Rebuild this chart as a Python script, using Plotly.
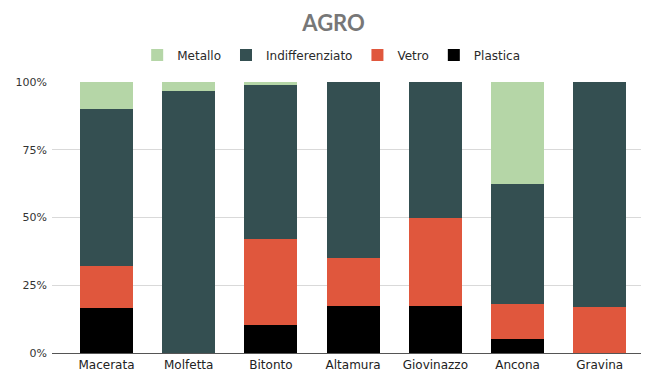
import plotly.graph_objects as go

# Waste composition per municipality (share of total, %)
comuni = ["Macerata", "Molfetta", "Bitonto", "Altamura", "Giovinazzo", "Ancona", "Gravina"]
plastica = [16.5, 0, 10.5, 17.5, 17.5, 5.0, 0]
vetro = [15.5, 0, 31.7, 17.5, 32.5, 13.2, 17.0]
indifferenziato = [58.0, 96.7, 56.8, 65.0, 50.0, 44.1, 83.0]
metallo = [10.0, 3.3, 1.0, 0, 0, 37.7, 0]

tick_vals = [0, 25, 50, 75, 100]
tick_text = ["0%", "25%", "50%", "75%", "100%"]

series = [
    ("Plastica", plastica, "#000000"),
    ("Vetro", vetro, "#e0573d"),
    ("Indifferenziato", indifferenziato, "#344f51"),
    ("Metallo", metallo, "#b5d6a7"),
]

fig = go.Figure()
for name, vals, color in series:
    fig.add_trace(go.Bar(
        x=comuni, y=vals, name=name,
        marker=dict(color=color, line=dict(width=0)),
    ))

fig.update_layout(
    width=649, height=374,
    barmode="stack", barnorm="percent", bargap=0.355,
    paper_bgcolor="white", plot_bgcolor="white",
    margin=dict(l=52, r=8, t=82, b=21),
    font=dict(family="'DejaVu Sans', sans-serif", color="#333333"),
    title=dict(
        text="<b>AGRO</b>", x=0.514, xref="container", xanchor="center",
        y=1 - 23 / 374, yref="container", yanchor="middle",
        font=dict(size=22, color="#777777", family="Lato, 'Open Sans', sans-serif"),
    ),
    legend=dict(
        orientation="h", traceorder="reversed",
        x=0.474, xanchor="center", y=1.1, yanchor="middle",
        font=dict(size=12, color="#2a2a2a", family="'DejaVu Sans', sans-serif"),
        itemwidth=30,
    ),
    showlegend=True,
)
fig.update_xaxes(
    range=[-0.663, 6.502], showgrid=False, automargin=False,
    showline=True, linecolor="#555555", linewidth=1,
    ticks="", ticklabelstandoff=1,
    tickfont=dict(size=12, color="#222222", family="'DejaVu Sans', sans-serif"),
)
fig.update_yaxes(
    range=[0, 100], tickvals=tick_vals, ticktext=tick_text, automargin=False,
    showgrid=True, gridcolor="#d9d9d9", gridwidth=1,
    zeroline=False, ticks="", ticklabelstandoff=4,
    tickfont=dict(size=11, color="#333333", family="'DejaVu Sans', sans-serif"),
)

fig.write_html("out.html")
